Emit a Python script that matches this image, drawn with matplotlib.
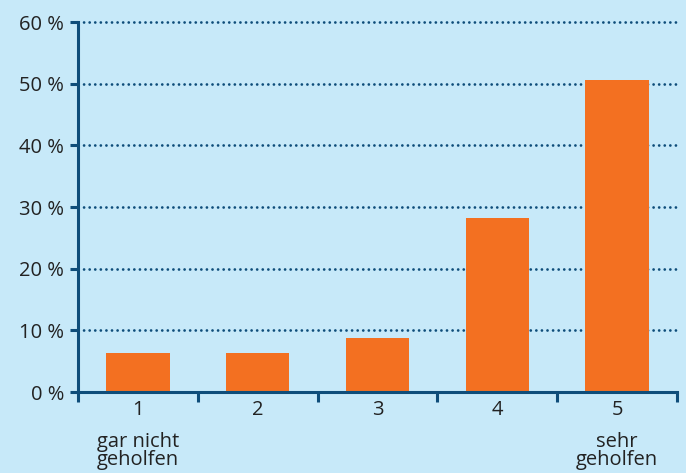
import matplotlib.pyplot as plt
import numpy as np

# Data
categories = ["1", "2", "3", "4", "5"]
values = [6.3, 6.3, 8.7, 28.2, 50.6]
y_ticks = [0, 10, 20, 30, 40, 50, 60]
y_labels = [f"{v} %" for v in y_ticks]
extra_labels = {0: "gar nicht\ngeholfen", 4: "sehr\ngeholfen"}

bg = "#C7E9F9"
bar_color = "#F37021"
axis_color = "#0E4D7A"
text_color = "#222222"

plt.rcParams['font.family'] = ['Open Sans', 'DejaVu Sans']

fig = plt.figure(figsize=(6.86, 4.73), dpi=100, facecolor=bg)
ax = fig.add_axes([78 / 686, 1 - 392 / 473, (677 - 78) / 686, (392 - 22) / 473])
ax.set_facecolor(bg)

x = np.arange(len(categories))
ax.bar(x, values, width=0.53, color=bar_color, zorder=3)

ax.set_xlim(-0.5, len(categories) - 0.5)
ax.set_ylim(0, 60)

# dotted grid lines
for v in y_ticks[1:]:
    ax.axhline(v, color=axis_color, lw=2.0, linestyle=(0, (0.01, 2.0)),
               dash_capstyle='round', zorder=2, clip_on=False)

for side in ['top', 'right']:
    ax.spines[side].set_visible(False)
for side in ['left', 'bottom']:
    ax.spines[side].set_color(axis_color)
    ax.spines[side].set_linewidth(2.2)
    ax.spines[side].set_zorder(4)

ax.set_yticks(y_ticks)
ax.set_yticklabels(y_labels)
ax.tick_params(axis='y', length=6, width=2.2, color=axis_color,
               labelsize=14.5, labelcolor=text_color, pad=4)

ax.set_xticks(x)
ax.set_xticklabels(categories)
ax.set_xticks(np.arange(-0.5, len(categories)), minor=True)
ax.tick_params(axis='x', which='major', length=0, labelsize=14.5,
               labelcolor=text_color, pad=6)
ax.tick_params(axis='x', which='minor', length=7, width=2.2, color=axis_color)

for i, lab in extra_labels.items():
    ax.annotate(lab, xy=(i, 0), xycoords='data', xytext=(0, -29),
                textcoords='offset points', ha='center', va='top',
                fontsize=14.5, color=text_color, linespacing=0.82,
                annotation_clip=False)

fig.savefig("out.png", dpi=100, facecolor=bg)
